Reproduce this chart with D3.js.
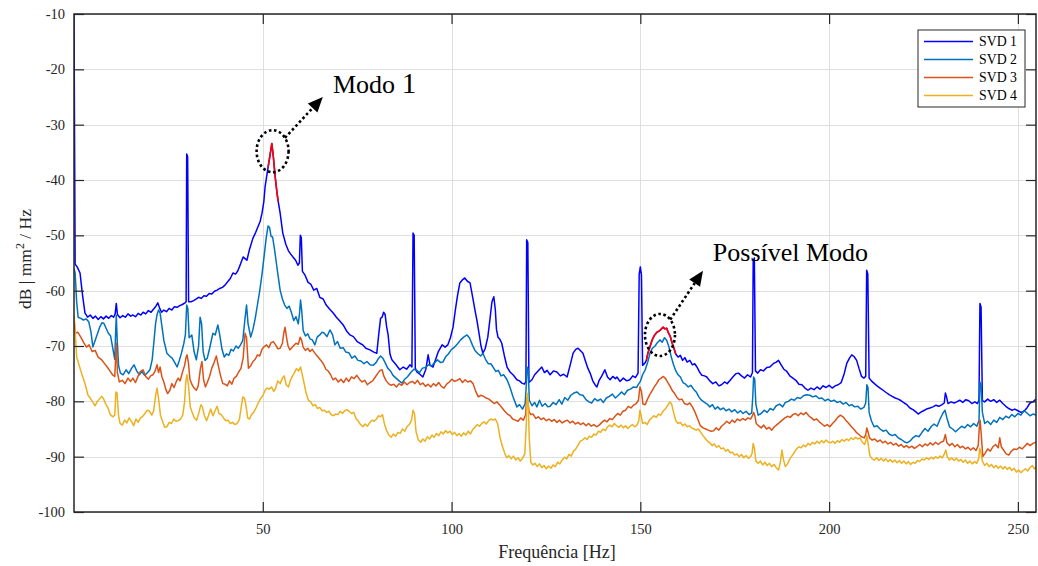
<!DOCTYPE html>
<html><head><meta charset="utf-8">
<script src="https://cdn.jsdelivr.net/npm/d3@7"></script>
<style>
html,body{margin:0;padding:0;background:#fff;}
svg{display:block;font-family:"Liberation Serif","Times New Roman",serif;}
</style></head><body>
<svg id="chart" width="1038" height="566"></svg>
<script>
// Singular value spectra (dB) of the measured response, frequency in Hz
const seriesNames = ["SVD 1", "SVD 2", "SVD 3", "SVD 4"];
const seriesColors = ["#0000ff", "#0072bd", "#d95319", "#edb120"];
const xTicks = [50, 100, 150, 200, 250];
const yTicks = [-100, -90, -80, -70, -60, -50, -40, -30, -20, -10];

const svd1 = [[0,-10],[0.3,-55.2],[0.9,-55.8],[1.6,-56.8],[2.2,-60.5],[2.9,-64],[3.6,-64.8],[4.3,-64.4],[5,-65],[5.7,-64.6],[6.4,-65.2],[7.1,-64.7],[7.8,-65.1],[8.5,-64.6],[9.2,-65],[9.9,-64.5],[10.5,-64.8],[10.9,-64.2],[11.2,-62.3],[11.5,-64.3],[12.2,-64.9],[12.9,-64.5],[13.6,-64.8],[14.3,-64.2],[15,-64.6],[15.6,-64.4],[16.3,-64.7],[17,-64.1],[17.7,-64.4],[18.3,-63.9],[19,-64.2],[19.7,-63.6],[20.4,-63.9],[21.1,-63.3],[21.7,-62.8],[22.2,-62.2],[22.7,-63.2],[23.2,-63.9],[23.8,-63.5],[24.5,-63.8],[25.2,-63.2],[25.9,-63.5],[26.6,-62.9],[27.3,-63],[28,-62.7],[28.7,-62.5],[29.4,-62.2],[29.7,-62],[29.85,-35.3],[30.1,-35.8],[30.35,-62],[31,-62],[31.7,-61.8],[32.4,-61.5],[33,-61.2],[33.7,-61.4],[34.4,-60.9],[35.1,-61],[35.8,-60.5],[36.5,-60.6],[37.2,-60.1],[37.9,-59.9],[38.6,-59.6],[39.3,-59.4],[40,-59],[40.7,-58.4],[41.4,-57.8],[42.1,-56.8],[42.8,-57],[43.4,-56.4],[44.1,-55.2],[44.8,-53.9],[45.3,-54.2],[45.8,-54.5],[46.5,-52.5],[47.4,-50.5],[48.1,-49.5],[48.7,-48.5],[49.3,-47.5],[49.8,-46],[50.3,-43.8],[50.6,-41.3],[51,-39.5],[51.4,-37.7],[51.9,-35.6],[52.4,-33.4],[52.8,-35.8],[53.3,-39.5],[53.8,-42.5],[54.1,-43.9],[54.6,-46],[55.3,-49.6],[56.1,-51.6],[56.8,-52.8],[57.4,-53.4],[58.1,-54],[58.7,-54.5],[59.3,-55.4],[59.7,-55],[59.95,-50],[60.2,-50.4],[60.5,-56.5],[61.2,-57.2],[62,-58.5],[62.7,-58.8],[63.5,-59.9],[64.3,-59.6],[65.1,-61.2],[66,-61.5],[66.8,-62.6],[67.8,-63.4],[68.6,-64],[69.5,-64.8],[70.4,-65.5],[71.3,-66.2],[72.3,-67.4],[73.1,-68],[74,-68.3],[75,-69.2],[75.7,-69.5],[76.5,-69.8],[77.3,-70.4],[78.4,-70.7],[79.4,-71.1],[80.2,-71.3],[80.7,-68],[81.2,-65],[81.6,-64.8],[82,-63.9],[82.4,-64.3],[82.8,-66.5],[83.2,-68],[83.7,-71.5],[84.2,-72.5],[85.3,-73.4],[86.3,-74.3],[87.2,-73.8],[88.1,-74.2],[89,-73.4],[89.5,-73.8],[89.8,-49.6],[90.1,-50],[90.4,-74],[90.8,-74.7],[91.6,-75.1],[92.4,-75.6],[93.2,-74.2],[93.8,-71.6],[94.3,-73.5],[95.1,-73.8],[95.8,-72.4],[96.5,-71],[97.5,-69.8],[98.3,-70.2],[99,-69.8],[99.7,-68.5],[100.4,-66.6],[101,-63.5],[101.6,-60.8],[102.2,-58.6],[102.8,-58.1],[103.5,-57.7],[104.2,-58.3],[104.9,-58.6],[105.6,-61.2],[106.2,-63.5],[106.7,-65.3],[107.3,-67.8],[107.8,-70],[108.3,-71.3],[108.9,-70.5],[109.6,-68.4],[110.2,-65],[110.7,-62],[111.2,-61.1],[111.6,-63.5],[111.9,-67],[112.3,-68.4],[112.8,-68.8],[113.3,-69.5],[114,-71.8],[114.7,-73.8],[115.5,-74.7],[116.4,-75.3],[117.3,-76.1],[118,-76.3],[118.6,-76.7],[119.3,-76.9],[119.7,-76.4],[119.9,-50.8],[120.2,-51.3],[120.5,-76.6],[121.3,-76.1],[122,-75.2],[122.8,-74.6],[123.9,-73.8],[124.6,-74.8],[125.3,-74.4],[126.1,-75.2],[127,-74.5],[127.9,-74.7],[128.8,-75.4],[129.7,-75.1],[130.6,-75.6],[131.4,-73.5],[132.2,-71.3],[132.9,-70.6],[133.5,-70.4],[134.1,-70.8],[134.8,-71.3],[135.5,-72.8],[136.1,-74],[136.7,-74.9],[137.4,-76.3],[138,-77],[138.5,-77.4],[139.1,-76.2],[139.8,-75.4],[140.6,-74.3],[141.3,-75.6],[142,-76.1],[142.7,-75.5],[143.4,-75.9],[143.8,-75.6],[144.6,-76.4],[145.5,-75.8],[146.4,-76.3],[147.2,-76.1],[148,-75.4],[148.7,-75.7],[149.4,-74.9],[149.7,-57],[150,-55.7],[150.3,-57.2],[150.6,-73.5],[151.2,-73.1],[151.6,-72.6],[152,-71.3],[152.6,-70],[153.2,-68.8],[153.8,-68],[154.4,-67.5],[155,-67.3],[155.6,-66.9],[156,-66.6],[156.5,-66.9],[157,-66.8],[157.4,-67.6],[157.9,-68.2],[158.4,-69.4],[158.9,-70.4],[159.4,-71.5],[160,-72],[160.6,-71.7],[161.2,-72.6],[161.8,-72.1],[162.4,-72.9],[163.1,-72.6],[163.8,-73.4],[164.4,-73.2],[165,-73.8],[165.6,-74.6],[166.3,-75.3],[167,-75.4],[167.6,-75.6],[168.4,-76.3],[169.2,-76.8],[170,-76.5],[170.8,-77.2],[171.5,-77],[172.3,-76.5],[173,-76.8],[173.8,-76.2],[174.5,-75.6],[175.3,-75],[176,-74.9],[176.8,-75.4],[177.6,-75.8],[178.4,-75.2],[179.2,-75.6],[179.7,-74.8],[179.9,-54.5],[180.2,-54.1],[180.5,-74.5],[181.1,-74.9],[181.8,-74.3],[182.6,-74.5],[183.5,-73.9],[184.3,-73.8],[185.2,-73.2],[186,-72.9],[186.6,-72.6],[187.3,-73.4],[188,-74.2],[188.8,-74.6],[189.6,-75.4],[190.4,-75.8],[191.2,-76.2],[192,-76.9],[192.8,-77],[193.6,-77.6],[194.4,-78],[195.2,-77.6],[196,-77.9],[196.8,-77.4],[197.6,-77.8],[198.4,-77.2],[199.2,-77.5],[200,-77.1],[200.8,-77.6],[201.6,-77.2],[202.4,-77],[203.2,-76.6],[204,-75],[204.7,-73.1],[205.4,-72.2],[206,-71.6],[206.6,-71.9],[207.3,-72.6],[207.9,-74],[208.6,-75.5],[209.2,-75.8],[209.7,-75.5],[209.95,-56.3],[210.25,-57],[210.6,-75.8],[211.2,-76.3],[212,-76.8],[212.7,-77.2],[213.5,-77.6],[214.3,-78],[215.1,-78.4],[215.9,-78.8],[216.7,-79.1],[217.5,-79.4],[218.3,-79.6],[219.1,-79.9],[219.9,-80.3],[220.6,-80.6],[221.4,-81.2],[222.2,-81.5],[223,-81.9],[223.6,-82.3],[224.2,-82],[225,-81.7],[225.8,-81.4],[226.7,-81.2],[227.5,-81],[228.3,-80.7],[229.1,-80.9],[229.9,-80.6],[230.5,-80.3],[230.8,-78.5],[231.1,-79.2],[231.5,-80.4],[232.3,-80.1],[233.1,-80.3],[233.8,-80.1],[234.6,-79.8],[235.4,-80.2],[236.2,-79.7],[237,-79.9],[237.8,-80.4],[238.6,-80.1],[239.3,-80.4],[239.7,-79.8],[239.95,-62.3],[240.25,-63],[240.6,-79.9],[241.2,-80.1],[242,-79.6],[242.8,-80],[243.6,-79.7],[244.4,-80.2],[245.2,-79.8],[246,-80.4],[246.8,-80.9],[247.6,-81.3],[248.4,-81.6],[249.2,-81.4],[250,-81.7],[250.8,-82],[251.6,-81.8],[252.4,-81.2],[253.2,-80.3],[254,-80.1],[254.8,-79.6]];

const svd2 = [[0,-56],[0.3,-56.8],[0.7,-62],[1.1,-64.8],[1.8,-65],[2.5,-65.3],[3.2,-65.1],[3.9,-65.6],[4.5,-67.5],[5,-70.2],[5.5,-69.2],[6.1,-68],[6.8,-66.6],[7.4,-65.8],[7.9,-65.9],[8.5,-66.8],[9.1,-67.7],[9.7,-68.2],[10.3,-70.5],[10.8,-72.4],[11,-68],[11.2,-64.5],[11.45,-69],[11.8,-73.5],[12.3,-74.9],[13,-75.2],[13.8,-74.3],[14.5,-75],[15.2,-74.1],[15.9,-73.4],[16.6,-74.5],[17.3,-75.2],[18,-74.6],[18.7,-75.3],[19.5,-74.8],[20.1,-74.3],[20.7,-72.5],[21.2,-69],[21.6,-66],[22,-64.3],[22.4,-63.5],[22.8,-64],[23.3,-66.5],[23.8,-69],[24.6,-71.3],[25.3,-71.8],[26,-72.2],[26.7,-73],[27.3,-73.8],[27.9,-72.6],[28.5,-71.2],[29.1,-69.5],[29.5,-68],[29.85,-62.6],[30.15,-63.2],[30.5,-68.5],[31.2,-68],[31.8,-71],[32.4,-72.5],[33,-70],[33.4,-64.8],[33.8,-66],[34.2,-71],[34.7,-72.6],[35.3,-72.2],[35.9,-70.5],[36.5,-68.6],[36.8,-67.7],[37.4,-68],[38.1,-66.2],[38.6,-68],[39.2,-70.6],[39.8,-72],[40.4,-71.4],[41,-71.7],[41.6,-70.6],[42.2,-70.9],[42.9,-70],[43.5,-70.4],[44.1,-69.8],[44.7,-69],[45.3,-65],[45.7,-62.6],[46.1,-66],[46.8,-68.4],[47.4,-67],[48,-65],[48.6,-62.5],[49.2,-60],[49.8,-57],[50.4,-53.5],[50.9,-50.5],[51.4,-48.3],[51.8,-48.6],[52.2,-50.2],[52.6,-50.3],[53.1,-52.5],[53.6,-55],[54.1,-57.5],[54.6,-59.9],[55.2,-61.5],[55.8,-62.6],[56.4,-63.2],[57,-62.8],[57.6,-64],[58.2,-65.4],[58.8,-64.7],[59.4,-66],[59.75,-64],[60,-61.7],[60.3,-63.5],[60.7,-67.2],[61.3,-68.2],[61.9,-67.8],[62.5,-68.7],[63.1,-68.9],[63.8,-69.8],[64.4,-68.4],[65.1,-68],[65.7,-67.5],[66.3,-67.7],[67,-68.3],[67.8,-67.1],[68.5,-68],[69.1,-69.8],[69.8,-69.2],[70.5,-70.4],[71.3,-70.3],[72,-71.1],[72.8,-71.2],[73.6,-72.2],[74.4,-71.8],[75.2,-72.6],[76,-72.7],[76.8,-73.2],[77.6,-72.8],[78.4,-73.4],[79.2,-73.5],[80,-73],[80.6,-72.3],[81.2,-71.8],[81.8,-72.2],[82.4,-73],[83.1,-74],[83.8,-74.5],[84.5,-75.3],[85.3,-75.8],[86.1,-76.3],[86.9,-76.7],[87.6,-76],[88.4,-75.5],[89.2,-74.8],[90,-74.2],[90.8,-74.4],[91.5,-74.8],[92.3,-74],[93.1,-73.9],[93.9,-73.4],[94.7,-73.6],[95.5,-73],[96.3,-72.5],[97.1,-73],[97.7,-72.9],[98.4,-72],[99.2,-71.4],[100,-70.6],[100.8,-70.2],[101.6,-69.6],[102.4,-68.9],[103.2,-68.4],[104.1,-68],[104.8,-68.6],[105.5,-69.8],[106.2,-70.8],[107,-71.4],[107.7,-71.8],[108.3,-71.3],[109,-72.4],[109.7,-73.2],[110.4,-73.2],[111,-73.8],[111.7,-74.6],[112.4,-74.4],[113.1,-75.4],[113.8,-75.2],[114.7,-76.1],[115.5,-77.5],[116.3,-79.2],[117.3,-81],[118,-80.6],[118.8,-81.4],[119.5,-80.4],[119.8,-77],[120,-73.8],[120.3,-74.3],[120.6,-79.8],[121.3,-80.8],[122,-80.2],[122.6,-81],[123.3,-79.8],[124,-80.9],[124.8,-80.4],[125.5,-81],[126.1,-80.9],[126.9,-80.2],[127.7,-80.6],[128.5,-79.7],[129.2,-80.5],[130,-79.3],[130.8,-79.8],[131.6,-78.9],[132.4,-78.5],[133.2,-78.3],[134,-78.8],[134.8,-78.9],[135.6,-79.7],[136.4,-80.1],[137.1,-80.3],[137.9,-79.5],[138.7,-79.9],[139.5,-79.6],[140.2,-80.2],[141,-79.4],[141.8,-79.1],[142.6,-78.7],[143.4,-79.4],[144.2,-78.9],[145,-78.3],[145.8,-78.8],[146.6,-78],[147.4,-77.8],[148.2,-77.4],[149,-77.5],[149.6,-76.8],[150,-76.4],[150.6,-75.2],[151.3,-74.3],[152,-72.8],[152.6,-71.2],[153.2,-70.4],[153.9,-70],[154.5,-69.4],[155.2,-68.9],[155.8,-69.3],[156.4,-68.5],[157,-69],[157.6,-70.2],[158.2,-72],[158.8,-73.4],[159.4,-74.5],[160,-75.2],[160.6,-75.6],[161.3,-76.6],[162,-76.9],[162.7,-77.4],[163.4,-77.1],[164.1,-77.8],[164.8,-78.3],[165.5,-79.2],[166.2,-79.8],[167,-80.2],[167.7,-80.5],[168.4,-81],[169.1,-80.6],[169.8,-81.4],[170.5,-81],[171.2,-81.5],[172,-81.2],[172.7,-81.7],[173.5,-81.4],[174.2,-81.9],[175,-81.5],[175.8,-82.1],[176.5,-81.7],[177.2,-82.2],[178,-81.8],[178.8,-82.4],[179.5,-82.1],[179.8,-79],[180,-75.6],[180.3,-76],[180.6,-80.5],[181.2,-82.5],[182,-82.2],[182.8,-81.6],[183.6,-82],[184.4,-81.3],[185.2,-81.6],[186,-80.8],[186.9,-80.5],[187.7,-81],[188.4,-80.2],[189.2,-80],[190,-79.6],[190.8,-79.8],[191.6,-79.3],[192.4,-79.5],[193.2,-79],[194,-78.8],[194.9,-78.9],[195.7,-79.2],[196.5,-79],[197.3,-79.5],[198.1,-79.4],[198.9,-79.9],[199.7,-79.6],[200.5,-80],[201.3,-79.8],[202.1,-80.2],[202.9,-80],[203.7,-80.5],[204.5,-80.2],[205.3,-80.8],[206,-80.6],[206.8,-81],[207.6,-80.9],[208.4,-81.4],[209.2,-81.1],[209.7,-80.3],[210,-77],[210.3,-77.5],[210.6,-82],[211.2,-83.5],[211.9,-84.6],[212.7,-84.4],[213.5,-85],[214.3,-85.4],[215.1,-85.2],[215.9,-85.9],[216.7,-86.2],[217.5,-86],[218.3,-86.6],[219.1,-86.9],[219.9,-87.3],[220.6,-87.5],[221.4,-87.2],[222.2,-86.6],[223,-86.2],[223.8,-86.4],[224.6,-85.6],[225.4,-84.9],[226.2,-85.4],[227,-84.6],[227.8,-84.1],[228.6,-84.5],[229.4,-83.2],[230.1,-82.2],[230.7,-81.6],[231.2,-83],[231.9,-84.6],[232.7,-85],[233.5,-85.5],[234.3,-85],[235.1,-84.5],[235.9,-84.8],[236.7,-84.2],[237.5,-84.6],[238.3,-84],[239.1,-84.5],[239.7,-83.5],[239.95,-76.5],[240.25,-77],[240.6,-82],[241.2,-84],[242,-83.6],[242.8,-84.2],[243.6,-83.4],[244.4,-83.8],[245.2,-82.9],[246,-83.3],[246.8,-82.7],[247.6,-83],[248.4,-82.4],[249.2,-82.8],[250,-82.2],[250.8,-82.5],[251.6,-81.7],[252.4,-82.1],[253.2,-82.6],[254,-82.3],[254.8,-82.5]];

const svd3 = [[0,-64.8],[0.3,-67.7],[1,-67.5],[1.8,-68.4],[2.5,-69.3],[3.3,-70.2],[4,-69.8],[4.8,-71],[5.6,-70.8],[6.4,-72],[7.2,-72.4],[8,-73.1],[8.8,-73.8],[9.5,-74.5],[10.2,-75.2],[10.8,-75.5],[11.2,-69.5],[11.5,-74.8],[12,-76.5],[12.8,-76.2],[13.5,-76.8],[14.3,-75.8],[15,-76.4],[15.6,-75.8],[16.3,-76.6],[17,-75.4],[17.6,-74.6],[18.3,-74.3],[19,-75.5],[19.7,-76],[20.3,-75.4],[20.9,-75.2],[21.5,-74.5],[22,-73.4],[22.4,-74.8],[22.8,-73.8],[23.3,-75.6],[23.8,-76.5],[24.3,-77.8],[24.8,-78.6],[25.4,-78],[25.9,-76.8],[26.5,-77.5],[27.1,-76.4],[27.6,-75.8],[28.1,-76.3],[28.7,-74.8],[29.3,-73.5],[29.7,-72],[29.95,-71.6],[30.3,-73],[30.7,-76],[31.2,-76.9],[31.8,-77.6],[32.4,-78],[32.9,-77.2],[33.5,-74],[33.9,-72.8],[34.3,-76],[34.8,-77.4],[35.3,-76.6],[35.9,-75.5],[36.5,-74],[37.1,-73],[37.7,-71.8],[38.2,-73.5],[38.8,-75.3],[39.4,-76.8],[40,-76.9],[40.6,-77.2],[41.2,-76.3],[41.8,-76.9],[42.4,-75.8],[43,-75.5],[43.6,-74.7],[44.2,-74.1],[44.8,-72.2],[45.3,-67.7],[45.7,-68.5],[46.2,-74],[46.8,-73.6],[47.4,-72.8],[48,-72.4],[48.6,-71.6],[49.2,-71.8],[49.8,-70.6],[50.4,-70.1],[51,-69.8],[51.6,-70.3],[52.2,-69.4],[52.8,-69.2],[53.4,-69.8],[54,-70.5],[54.6,-70.4],[55.2,-69.5],[55.6,-67.5],[55.9,-66.6],[56.3,-68.5],[56.7,-70],[57.2,-70.7],[57.7,-70.3],[58.2,-69.9],[58.8,-69.5],[59.4,-69.7],[59.9,-68.4],[60.3,-69],[60.7,-70.2],[61.3,-70.8],[61.9,-70.4],[62.5,-71],[63.1,-70.6],[63.7,-71.2],[64.3,-71.7],[64.9,-72.2],[65.5,-72.7],[66.1,-73.3],[66.7,-74.2],[67.3,-74.5],[67.9,-75.1],[68.6,-76.1],[69.3,-75.8],[70,-76.5],[70.7,-76],[71.4,-76.6],[72.1,-75.8],[72.8,-76.4],[73.5,-75.6],[74.2,-75.9],[74.9,-75.3],[75.6,-76],[76.3,-76.5],[77,-76.2],[77.7,-77],[78.4,-76.6],[79.1,-76.3],[79.8,-75.6],[80.5,-74.9],[81.1,-74.4],[81.6,-74.3],[82.1,-75.5],[82.7,-76.3],[83.3,-76.8],[84,-77.1],[84.7,-76.9],[85.4,-77.4],[86.1,-76.8],[86.8,-77.1],[87.5,-76.5],[88.2,-77],[88.9,-76.6],[89.6,-76.4],[90.3,-76.8],[91,-76.2],[91.7,-77],[92.4,-76.7],[93.1,-77.3],[93.8,-76.9],[94.5,-77.4],[95.2,-76.8],[95.9,-77.2],[96.6,-76.6],[97.3,-77.3],[98,-77.6],[98.7,-76.9],[99.4,-76.5],[100.1,-76],[100.8,-76.4],[101.5,-76.2],[102.2,-75.9],[102.9,-76.6],[103.6,-76.1],[104.3,-76.5],[105,-76.3],[105.7,-76.8],[106.4,-78.2],[107.1,-79.2],[107.8,-78.9],[108.5,-79.1],[109.2,-79.4],[109.9,-79.6],[110.6,-80],[111.3,-80.4],[112,-80.1],[112.7,-80.6],[113.4,-81.2],[114.1,-81.8],[114.8,-82.3],[115.5,-82.6],[116.2,-83.2],[116.9,-83.4],[117.6,-83.6],[118.3,-83],[119,-83.4],[119.6,-82.5],[119.9,-79.4],[120.2,-79.8],[120.5,-81.8],[121,-82.4],[121.6,-82.3],[122.3,-83.1],[123,-82.8],[123.7,-83.3],[124.4,-83],[125.1,-83.5],[125.8,-83.2],[126.5,-83.6],[127.2,-83.3],[127.9,-83.8],[128.6,-83.4],[129.3,-83.9],[130,-83.6],[130.7,-83.4],[131.4,-83.9],[132.1,-83.6],[132.8,-84.1],[133.5,-83.8],[134.2,-84.2],[134.9,-83.9],[135.6,-84.4],[136.3,-84],[137,-84.5],[137.7,-84.2],[138.4,-84.6],[139.1,-84.3],[139.8,-83.8],[140.5,-83.4],[141.2,-83.7],[141.9,-83.1],[142.6,-83.3],[143.3,-82.7],[144,-82.2],[144.7,-82.5],[145.4,-81.8],[146.1,-81.6],[146.8,-80.9],[147.5,-81.2],[148.2,-80.7],[148.9,-80.4],[149.5,-79.8],[149.9,-77.4],[150.3,-78.2],[150.7,-80.5],[151.3,-80.6],[151.9,-79.6],[152.5,-78.8],[153.1,-78.1],[153.7,-77.4],[154.3,-76.8],[154.9,-76.1],[155.5,-75.8],[156.1,-75.5],[156.7,-75.9],[157.3,-76.6],[157.9,-77.3],[158.5,-78.1],[159.1,-78.6],[159.7,-79.3],[160.3,-79.7],[161,-79.6],[161.7,-80.4],[162.4,-80.6],[163.1,-80.3],[163.8,-81],[164.5,-82],[165.2,-83.2],[165.9,-84.4],[166.6,-84.8],[167.3,-85],[168,-85.2],[168.7,-85.4],[169.4,-85.3],[170.1,-84.8],[170.8,-85.2],[171.5,-84.5],[172.2,-84.1],[172.9,-83.6],[173.6,-84],[174.3,-83.4],[175,-83.8],[175.7,-83.2],[176.4,-83.5],[177.1,-83.1],[177.8,-83.4],[178.5,-83],[179.2,-83.2],[179.7,-82.6],[180,-82],[180.3,-82.5],[180.7,-84],[181.3,-84.4],[182,-84.8],[182.7,-84.3],[183.4,-85],[184.1,-84.7],[184.8,-85.2],[185.5,-84.6],[186.2,-84.2],[186.9,-83.8],[187.6,-83.4],[188.3,-83],[189,-82.7],[189.7,-82.9],[190.4,-82.4],[191.1,-82.2],[191.8,-82.6],[192.5,-82.1],[193.2,-82.4],[193.9,-82],[194.6,-82.6],[195.3,-83],[196,-83.4],[196.7,-83.2],[197.4,-83.7],[198.1,-84.1],[198.8,-84.5],[199.5,-84.2],[200.2,-84.6],[200.9,-84],[201.6,-83.5],[202.3,-82.9],[203,-82.5],[203.7,-82.8],[204.4,-83.4],[205.1,-83.9],[205.8,-84.5],[206.5,-85],[207.2,-85.6],[207.9,-86],[208.6,-86.4],[209.3,-86.6],[209.7,-86],[210,-84.8],[210.3,-85.5],[210.7,-86.6],[211.4,-87],[212.1,-86.8],[212.8,-87.3],[213.5,-87],[214.2,-87.5],[214.9,-87.2],[215.6,-87.7],[216.3,-87.4],[217,-87.9],[217.7,-87.6],[218.4,-88.1],[219.1,-87.8],[219.8,-88.3],[220.5,-88],[221.2,-88.4],[221.9,-88.1],[222.6,-88.5],[223.3,-88.2],[224,-87.8],[224.7,-88.2],[225.4,-87.7],[226.1,-88],[226.8,-87.5],[227.5,-87.9],[228.2,-87.4],[228.9,-87.8],[229.6,-87.4],[230.3,-87.2],[230.8,-86],[231.2,-87.5],[231.9,-88],[232.6,-87.6],[233.3,-88.2],[234,-87.8],[234.7,-88.4],[235.4,-88.1],[236.1,-88.6],[236.8,-88.3],[237.5,-88.8],[238.2,-88.4],[238.9,-88.9],[239.5,-88],[239.85,-84],[240,-83.4],[240.3,-86],[240.7,-90],[241.3,-89.4],[242,-88.6],[242.7,-89],[243.4,-88.2],[244.1,-87.8],[244.8,-88.4],[245.2,-86.6],[245.6,-88.2],[246.2,-88.8],[246.9,-89.5],[247.6,-89.7],[248.3,-89],[249,-88.6],[249.7,-88.7],[250.4,-88.3],[251.1,-88.6],[251.8,-88.1],[252.5,-87.6],[253.2,-88],[254,-87.6],[254.8,-87.4]];

const svd4 = [[0,-64.5],[0.3,-67.1],[0.7,-72],[1.2,-73.1],[1.8,-74.5],[2.4,-75.8],[3,-77],[3.7,-78.9],[4.3,-79.4],[5,-80.2],[5.6,-80.8],[6.1,-80.1],[6.7,-79.6],[7.3,-79.1],[7.8,-79.5],[8.4,-80.5],[9,-81.2],[9.6,-82.4],[10.3,-82.8],[10.8,-82.5],[11.1,-78.3],[11.4,-78.5],[11.8,-82.6],[12.2,-84],[12.8,-84.3],[13.4,-83.4],[14,-83.9],[14.6,-83],[15.2,-83.6],[15.8,-84.4],[16.4,-83.2],[17,-83.8],[17.6,-83],[18.2,-82.7],[18.8,-82.2],[19.4,-81.6],[20,-81.8],[20.6,-82.5],[21.1,-81.7],[21.6,-79],[22,-77.6],[22.4,-79.5],[22.9,-82.5],[23.4,-83.5],[24,-84.7],[24.6,-84.6],[25.2,-83.8],[25.8,-84],[26.4,-83.2],[27,-83.6],[27.6,-83.5],[28.2,-83.2],[28.8,-82.5],[29.3,-80],[29.6,-76.5],[29.9,-75.2],[30.3,-77],[30.8,-81],[31.3,-82],[31.9,-83],[32.5,-83.4],[33.1,-82],[33.6,-80.6],[34,-81],[34.5,-82.5],[35.1,-83.5],[35.6,-82.6],[36.2,-81.4],[36.8,-82.6],[37.3,-81.8],[37.9,-80.9],[38.4,-82.2],[39,-82.4],[39.6,-83],[40.2,-83.5],[40.8,-83.4],[41.4,-84],[42,-83.8],[42.6,-84.2],[43.2,-84],[43.8,-83.3],[44.3,-81],[44.7,-79.2],[45.2,-79.5],[45.6,-81],[46,-83],[46.5,-83.2],[47,-82.4],[47.6,-82],[48.2,-81.2],[48.8,-80.3],[49.4,-79.5],[50,-79],[50.6,-78],[51.1,-77.6],[51.7,-77.8],[52.3,-77.4],[52.9,-78.2],[53.4,-77.6],[54,-76.3],[54.6,-76.8],[55.2,-75.8],[55.7,-75.4],[56.2,-77],[56.8,-77.4],[57.3,-76.2],[57.9,-75.4],[58.4,-74.8],[58.9,-74.1],[59.5,-74.5],[60,-73.8],[60.4,-75],[60.9,-76.6],[61.5,-78.6],[62.1,-79.8],[62.7,-80.1],[63.3,-80.8],[63.9,-80.6],[64.5,-81.3],[65.1,-81.1],[65.7,-81.7],[66.3,-81.6],[66.9,-82],[67.5,-81.8],[68.1,-82.4],[68.7,-82.6],[69.3,-82.3],[69.9,-82.4],[70.5,-81.8],[71.1,-82.2],[71.7,-81.7],[72.3,-81.5],[72.9,-81.8],[73.5,-82.2],[74.1,-82],[74.7,-83.1],[75.3,-83.6],[75.9,-84.2],[76.5,-84.6],[77.1,-84.1],[77.7,-84.5],[78.3,-83.9],[78.9,-83.4],[79.5,-83.6],[80.1,-83.2],[80.7,-82.6],[81.2,-82.8],[81.7,-82.4],[82.2,-84],[82.8,-85.3],[83.4,-86.1],[84,-86.5],[84.6,-85.9],[85.2,-86.3],[85.8,-85.6],[86.4,-85.8],[87,-85],[87.6,-85.4],[88.2,-84.6],[88.8,-84.2],[89.4,-83.4],[89.8,-81.6],[90.2,-82.3],[90.6,-85.5],[91.2,-87],[91.8,-87.4],[92.4,-86.8],[93,-87.2],[93.6,-86.4],[94.2,-86.8],[94.8,-86.1],[95.4,-86.5],[96,-85.8],[96.6,-86.2],[97.2,-85.5],[97.8,-85.9],[98.4,-85.3],[99,-85.7],[99.6,-85.4],[100.2,-86],[100.8,-85.6],[101.4,-86.2],[102,-85.8],[102.6,-86.3],[103.2,-85.7],[103.8,-86.1],[104.4,-85.4],[105,-85.9],[105.6,-85.1],[106.2,-84.7],[106.8,-84.2],[107.4,-84.5],[108,-84],[108.6,-83.7],[109.2,-84.1],[109.8,-83.5],[110.4,-83.2],[111,-83.4],[111.6,-83.2],[112.2,-84],[112.8,-86.4],[113.4,-88],[114,-89.2],[114.6,-90.2],[115.2,-89.8],[115.8,-90.4],[116.4,-89.9],[117,-90.6],[117.6,-90.2],[118.2,-90.8],[118.8,-90.3],[119.4,-89.5],[119.8,-84],[120,-78.5],[120.3,-80],[120.6,-87],[121,-91],[121.5,-91.5],[122.1,-91.2],[122.7,-91.8],[123.3,-91.3],[123.9,-92],[124.5,-91.6],[125.1,-92.2],[125.7,-91.7],[126.3,-92.1],[126.9,-91.5],[127.5,-91.8],[128.1,-91],[128.7,-91.3],[129.3,-90.6],[129.9,-90.1],[130.5,-90.4],[131.1,-89.6],[131.7,-89.9],[132.3,-89],[132.9,-88.6],[133.5,-87.9],[134.1,-87.2],[134.7,-87],[135.3,-86.6],[135.9,-86.9],[136.5,-86.3],[137.1,-86.5],[137.7,-85.9],[138.3,-86.1],[138.9,-85.4],[139.5,-85.6],[140.1,-85],[140.7,-85.3],[141.3,-84.6],[141.9,-84.3],[142.5,-84.6],[143.1,-84],[143.7,-84.4],[144.3,-84.7],[144.9,-84.3],[145.5,-84.8],[146.1,-84.4],[146.7,-84.9],[147.3,-84.5],[147.9,-84.2],[148.5,-84.6],[149.1,-84.3],[149.6,-83.5],[149.9,-81.6],[150.2,-82.5],[150.6,-84],[151.2,-83.8],[151.8,-84.2],[152.4,-83.4],[153,-83],[153.6,-82.6],[154.2,-82.9],[154.8,-82.3],[155.4,-82.5],[156,-81.8],[156.6,-81.4],[157.2,-80.8],[157.8,-80.1],[158.3,-80.5],[158.8,-82],[159.4,-83.5],[160,-84],[160.6,-83.8],[161.2,-84.4],[161.8,-84.1],[162.4,-84.6],[163,-84.4],[163.6,-84.8],[164.2,-85],[164.8,-85.2],[165.4,-85],[166,-85.6],[166.6,-86.2],[167.2,-86.7],[167.8,-87.2],[168.4,-87.5],[169,-88],[169.6,-87.7],[170.2,-88.3],[170.8,-88],[171.4,-88.6],[172,-88.4],[172.6,-89],[173.2,-88.7],[173.8,-89.3],[174.4,-89.2],[175,-89.7],[175.6,-89.5],[176.2,-90],[176.8,-89.6],[177.4,-90.2],[178,-89.8],[178.6,-90.3],[179.2,-90],[179.6,-89.4],[179.9,-87.6],[180.2,-88.4],[180.6,-90.8],[181.2,-91.2],[181.8,-90.8],[182.4,-91.5],[183,-91],[183.6,-91.6],[184.2,-91.2],[184.8,-91.8],[185.4,-91.4],[186,-92],[186.6,-92.4],[187.1,-91],[187.5,-88.8],[187.9,-90.5],[188.4,-91.8],[189,-91.3],[189.6,-90.4],[190.2,-89.8],[190.8,-89.2],[191.4,-88.6],[192,-88.2],[192.6,-88.4],[193.2,-87.9],[193.8,-88.2],[194.4,-87.6],[195,-87.9],[195.6,-87.4],[196.2,-87.7],[196.8,-87.2],[197.4,-87.6],[198,-87.1],[198.6,-87.5],[199.2,-87],[199.8,-87.4],[200.4,-87.5],[201,-87.2],[201.6,-87.6],[202.2,-87.1],[202.8,-87.4],[203.4,-86.9],[204,-87.2],[204.6,-86.8],[205.2,-87.1],[205.8,-86.6],[206.4,-86.9],[207,-86.5],[207.6,-86.8],[208.2,-86.6],[208.8,-87.4],[209.4,-87.8],[209.7,-87.2],[210,-86.2],[210.3,-87.5],[210.8,-89.8],[211.4,-90.4],[212,-90.6],[212.6,-90.2],[213.2,-90.7],[213.8,-90.3],[214.4,-90.8],[215,-90.4],[215.6,-90.9],[216.2,-90.5],[216.8,-91],[217.4,-90.6],[218,-91.1],[218.6,-90.7],[219.2,-91.2],[219.8,-90.8],[220.4,-91.3],[221,-90.9],[221.6,-91.4],[222.2,-91],[222.8,-91.2],[223.4,-90.7],[224,-90.9],[224.6,-90.4],[225.2,-90.6],[225.8,-90.2],[226.4,-90.5],[227,-90.1],[227.6,-90.4],[228.2,-90],[228.8,-90.3],[229.4,-89.9],[230,-90.2],[230.6,-89.4],[230.9,-88.8],[231.3,-90],[231.9,-90.6],[232.5,-90.2],[233.1,-90.7],[233.7,-90.3],[234.3,-90.8],[234.9,-90.5],[235.5,-91],[236.1,-90.6],[236.7,-91.2],[237.3,-90.8],[237.9,-91.3],[238.5,-90.9],[239.1,-91.2],[239.6,-90.4],[239.9,-88.5],[240.2,-89.2],[240.6,-90.8],[241.2,-91.6],[241.8,-91.2],[242.4,-91.8],[243,-91.4],[243.6,-92],[244.2,-91.6],[244.8,-92.1],[245.4,-91.7],[246,-92.2],[246.6,-91.8],[247.2,-92.3],[247.8,-91.9],[248.4,-92.5],[249,-92.1],[249.6,-92.8],[250.2,-92.4],[250.8,-92.9],[251.4,-92.5],[252,-92.2],[252.6,-92.6],[253.2,-92],[253.8,-91.6],[254.4,-92.2],[254.8,-91.8]];

const seriesData = [svd1, svd2, svd3, svd4];

// Frequency bands of the first singular value highlighted as modes
const modeBands = [[51.4, 54.1], [151.6, 159.4]];

// Callouts: circle centre (Hz, dB), arrow tip (Hz, dB), label anchor (Hz, dB)
const callouts = [
  {text: "Modo ", num: "1", cf: 52.6, cdb: -34.8, rx: 16, ry: 21, tf: 65.9, tdb: -25.0, lf: 68.6, ldb: -24.2},
  {text: "Possível Modo", num: "", cf: 155.2, cdb: -68.0, rx: 15, ry: 21, tf: 166.6, tdb: -56.4, lf: 169.2, ldb: -54.6}
];

const W = 1038, H = 566;
const m = {left: 74, top: 14, right: 2, bottom: 54};
const pw = W - m.left - m.right, ph = H - m.top - m.bottom;
const axisColor = "#262626";
const serif = '"Liberation Serif","Times New Roman",serif';

const svg = d3.select("#chart");
const x = d3.scaleLinear().domain([0, 254.8]).range([0, pw]);
const y = d3.scaleLinear().domain([-100, -10]).range([ph, 0]);

const g = svg.append("g").attr("transform", `translate(${m.left},${m.top})`);

g.append("defs").append("clipPath").attr("id", "plotclip")
  .append("rect").attr("width", pw).attr("height", ph);

// grid
const grid = g.append("g").attr("stroke", "#dfdfdf").attr("stroke-width", 1);
grid.selectAll(".gx").data(xTicks).join("line")
  .attr("x1", d => Math.round(x(d)) + 0.5).attr("x2", d => Math.round(x(d)) + 0.5)
  .attr("y1", 0).attr("y2", ph);
grid.selectAll(".gy").data(yTicks).join("line")
  .attr("y1", d => Math.round(y(d)) + 0.5).attr("y2", d => Math.round(y(d)) + 0.5)
  .attr("x1", 0).attr("x2", pw);

// series
const line = d3.line().x(d => x(d[0])).y(d => y(d[1]));
const plot = g.append("g").attr("clip-path", "url(#plotclip)");
seriesData.forEach((data, i) => {
  plot.append("path").datum(data)
    .attr("fill", "none").attr("stroke", seriesColors[i])
    .attr("stroke-width", 1.5).attr("stroke-linejoin", "round")
    .attr("d", line);
});
modeBands.forEach(([a, b]) => {
  plot.append("path").datum(svd1.filter(d => d[0] >= a && d[0] <= b))
    .attr("fill", "none").attr("stroke", "#ff0000")
    .attr("stroke-width", 1.6).attr("stroke-linejoin", "round")
    .attr("d", line);
});

// axes (box with inward ticks)
function styleAxis(sel) {
  sel.select(".domain").remove();
  sel.selectAll(".tick line").attr("stroke", axisColor).attr("stroke-width", 1.2);
  sel.selectAll("text").attr("fill", "#262626").style("font-size", "14.5px")
    .style("font-family", serif);
}
g.append("g").attr("transform", `translate(0,${ph})`)
  .call(d3.axisBottom(x).tickValues(xTicks).tickSize(-10).tickPadding(12).tickFormat(d => String(d)))
  .call(styleAxis);
g.append("g")
  .call(d3.axisTop(x).tickValues(xTicks).tickSize(-10).tickFormat(""))
  .call(styleAxis);
g.append("g")
  .call(d3.axisLeft(y).tickValues(yTicks).tickSize(-10).tickPadding(9).tickFormat(d => String(d)))
  .call(styleAxis);
g.append("g").attr("transform", `translate(${pw},0)`)
  .call(d3.axisRight(y).tickValues(yTicks).tickSize(-10).tickFormat(""))
  .call(styleAxis);
g.append("rect").attr("x", 0).attr("y", 0).attr("width", pw).attr("height", ph)
  .attr("fill", "none").attr("stroke", axisColor).attr("stroke-width", 1.5);

// axis titles
svg.append("text").attr("x", 557).attr("y", 558)
  .attr("text-anchor", "middle").attr("fill", "#262626").style("font-size", "18px")
  .style("font-family", serif).text("Frequência [Hz]");
const yt = svg.append("text").attr("transform", "translate(31,259) rotate(-90)")
  .attr("text-anchor", "middle").attr("fill", "#262626").style("font-size", "17.5px")
  .style("font-family", serif);
yt.append("tspan").text("dB | mm");
yt.append("tspan").attr("dy", -7).style("font-size", "12px").text("2");
yt.append("tspan").attr("dy", 7).text(" / Hz");

// callouts
callouts.forEach(c => {
  const cx = x(c.cf), cy = y(c.cdb), tx = x(c.tf), ty = y(c.tdb);
  g.append("ellipse").attr("cx", cx).attr("cy", cy).attr("rx", c.rx).attr("ry", c.ry)
    .attr("fill", "none").attr("stroke", "#000").attr("stroke-width", 2.6)
    .attr("stroke-dasharray", "2.6 2.6");
  const dx = tx - cx, dy = ty - cy;
  const k = Math.sqrt((dx / c.rx) ** 2 + (dy / c.ry) ** 2);
  const sx = cx + dx / k, sy = cy + dy / k;
  const len = Math.hypot(dx, dy), ux = dx / len, uy = dy / len;
  const headL = 15, headW = 6.5;
  const bx = tx - ux * headL, by = ty - uy * headL;
  g.append("line").attr("x1", sx).attr("y1", sy).attr("x2", bx).attr("y2", by)
    .attr("stroke", "#000").attr("stroke-width", 2.6).attr("stroke-dasharray", "2.6 2.6");
  g.append("path")
    .attr("d", `M${tx},${ty}L${bx - uy * headW},${by + ux * headW}L${bx + uy * headW},${by - ux * headW}Z`)
    .attr("fill", "#000");
  const t = g.append("text").attr("x", x(c.lf)).attr("y", y(c.ldb))
    .attr("fill", "#000").style("font-size", "26px").style("font-family", serif);
  t.append("tspan").text(c.text);
  if (c.num) t.append("tspan").style("font-size", "29px").text(c.num);
});

// legend
const lg = svg.append("g").attr("transform", "translate(918,30)");
lg.append("rect").attr("width", 107).attr("height", 77)
  .attr("fill", "#fff").attr("stroke", axisColor).attr("stroke-width", 1);
seriesNames.forEach((name, i) => {
  const yy = 11.5 + i * 18;
  lg.append("line").attr("x1", 6).attr("x2", 55).attr("y1", yy).attr("y2", yy)
    .attr("stroke", seriesColors[i]).attr("stroke-width", 1.5);
  lg.append("text").attr("x", 61).attr("y", yy + 4.8).attr("fill", "#000")
    .style("font-size", "13.8px").style("font-family", serif).text(name);
});
</script>
</body></html>
